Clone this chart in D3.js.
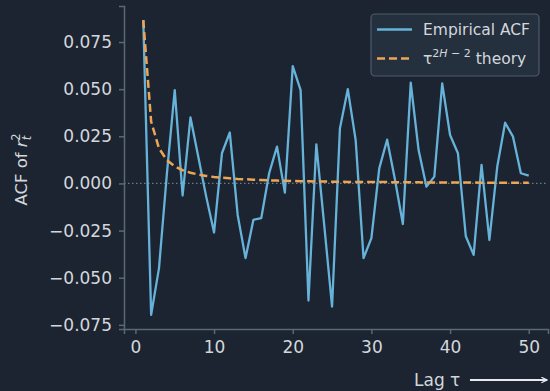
<!DOCTYPE html>
<html>
<head>
<meta charset="utf-8">
<script src="https://cdn.jsdelivr.net/npm/d3@7/dist/d3.min.js"></script>
<style>
  html, body { margin: 0; padding: 0; background: #1b2430; }
  svg { display: block; font-family: "DejaVu Sans", sans-serif; }
</style>
</head>
<body>
<svg id="chart" width="550" height="391"></svg>
<script>
// Lags 1..50
const lags = d3.range(1, 51);

// Empirical autocorrelation of squared returns
const acfValues = [
  0.0866, -0.0697, -0.0449, 0.0050, 0.0495, -0.0064, 0.0350, 0.0140, -0.0070, -0.0260,
  0.0160, 0.0270, -0.0167, -0.0396, -0.0193, -0.0184, 0.0054, 0.0195, -0.0049, 0.0622,
  0.0495, -0.0621, 0.0207, -0.0220, -0.0653, 0.0292, 0.0500, 0.0230, -0.0396, -0.0290,
  0.0080, 0.0232, 0.0020, -0.0215, 0.0534, 0.0177, -0.0017, 0.0036, 0.0530, 0.0257,
  0.0160, -0.0280, -0.0379, 0.0098, -0.0300, 0.0089, 0.0322, 0.0248, 0.0054, 0.0041
];

// Power-law decay curve tau^(2H-2), scaled to the lag-1 value
const theoryValues = [
  0.0866, 0.0328, 0.0186, 0.0124, 0.0091, 0.0070, 0.0057, 0.0047, 0.0040, 0.0034,
  0.0030, 0.0027, 0.0024, 0.0022, 0.0020, 0.0018, 0.0016, 0.0015, 0.0014, 0.0013,
  0.0012, 0.0011, 0.0010, 0.0010, 0.0009, 0.0009, 0.0008, 0.0008, 0.0007, 0.0007,
  0.0007, 0.0007, 0.0006, 0.0006, 0.0006, 0.0006, 0.0005, 0.0005, 0.0005, 0.0005,
  0.0005, 0.0005, 0.0005, 0.0004, 0.0004, 0.0004, 0.0004, 0.0004, 0.0004, 0.0004
];

const xTicks = [0, 10, 20, 30, 40, 50];
const yTicks = [-0.075, -0.050, -0.025, 0.000, 0.025, 0.050, 0.075];

const W = 550, H = 391;
const margin = { left: 124, right: 2, top: 6, bottom: 62 };

const svg = d3.select("#chart");
svg.append("rect").attr("width", W).attr("height", H).attr("fill", "#1b2430");

const x = d3.scaleLinear().domain([-1.45, 52.45]).range([margin.left, W - margin.right]);
const y = d3.scaleLinear().domain([-0.0772, 0.0941]).range([H - margin.bottom, margin.top]);

const textColor = "#d3d7dc";
const spineColor = "#5b6878";

// Zero reference
svg.append("line")
  .attr("x1", x.range()[0]).attr("x2", x.range()[1])
  .attr("y1", y(0)).attr("y2", y(0))
  .attr("stroke", "#6f7a88").attr("stroke-width", 1.2)
  .attr("stroke-dasharray", "1.5,2.5");

// Axes
const xAxis = d3.axisBottom(x).tickValues(xTicks).tickSize(5).tickPadding(7).tickFormat(d3.format("d"));
const yAxis = d3.axisLeft(y).tickValues(yTicks).tickSize(5).tickPadding(7)
  .tickFormat(d => d3.format(".3f")(d).replace("-", "\u2212"));

const gx = svg.append("g").attr("transform", `translate(0,${H - margin.bottom})`).call(xAxis);
const gy = svg.append("g").attr("transform", `translate(${margin.left},0)`).call(yAxis);

[gx, gy].forEach(g => {
  g.select(".domain").attr("stroke", spineColor).attr("stroke-width", 1.5);
  g.selectAll(".tick line").attr("stroke", spineColor).attr("stroke-width", 1.5);
  g.selectAll(".tick text").attr("fill", textColor)
    .style("font-size", "17px").style("font-family", "DejaVu Sans, sans-serif");
});

// Series lines
const line = d3.line().x((d, i) => x(lags[i])).y(d => y(d));

svg.append("path")
  .datum(acfValues)
  .attr("fill", "none")
  .attr("stroke", "#66b2d8")
  .attr("stroke-width", 2.3)
  .attr("stroke-linejoin", "round")
  .attr("d", line);

svg.append("path")
  .datum(theoryValues)
  .attr("fill", "none")
  .attr("stroke", "#eca455")
  .attr("stroke-width", 2.5)
  .attr("stroke-dasharray", "8,4")
  .attr("d", line);

// Y label: ACF of r_t^2
const yl = svg.append("text")
  .attr("transform", `translate(27,${(margin.top + H - margin.bottom) / 2 + 2}) rotate(-90)`)
  .attr("text-anchor", "middle")
  .attr("fill", textColor)
  .style("font-size", "16.5px");
yl.append("tspan").text("ACF of ");
yl.append("tspan").attr("font-style", "italic").text("r");
yl.append("tspan").attr("font-size", "11.5px").attr("font-style", "italic").attr("dy", 4).attr("dx", 0).text("t");
yl.append("tspan").attr("font-size", "11.5px").attr("dy", -11).attr("dx", -5).text("2");

// X label with arrow
svg.append("text")
  .attr("x", 414).attr("y", 386)
  .attr("fill", textColor)
  .style("font-size", "17px")
  .text("Lag \u03c4");

const defs = svg.append("defs");
defs.append("marker")
  .attr("id", "arrowhead")
  .attr("viewBox", "0 0 10 10")
  .attr("refX", 9).attr("refY", 5)
  .attr("markerWidth", 7).attr("markerHeight", 7)
  .attr("markerUnits", "userSpaceOnUse")
  .attr("orient", "auto")
  .append("path")
  .attr("d", "M1,1 L9,5 L1,9")
  .attr("fill", "none")
  .attr("stroke", "#e8ebee")
  .attr("stroke-width", 1.8);

svg.append("line")
  .attr("x1", 470).attr("x2", 547)
  .attr("y1", 380).attr("y2", 380)
  .attr("stroke", "#e8ebee")
  .attr("stroke-width", 1.8)
  .attr("marker-end", "url(#arrowhead)");

// Legend
const legend = svg.append("g");
legend.append("rect")
  .attr("x", 371).attr("y", 14)
  .attr("width", 168).attr("height", 62)
  .attr("rx", 4)
  .attr("fill", "#24303e")
  .attr("stroke", "#4e5b6b")
  .attr("stroke-width", 1.2);

legend.append("line")
  .attr("x1", 377).attr("x2", 412).attr("y1", 29.5).attr("y2", 29.5)
  .attr("stroke", "#66b2d8").attr("stroke-width", 2.3);
legend.append("line")
  .attr("x1", 377).attr("x2", 412).attr("y1", 58.5).attr("y2", 58.5)
  .attr("stroke", "#eca455").attr("stroke-width", 2.5)
  .attr("stroke-dasharray", "8,4");

legend.append("text")
  .attr("x", 423).attr("y", 35)
  .attr("fill", textColor)
  .style("font-size", "15.5px")
  .text("Empirical ACF");

const lt = legend.append("text")
  .attr("x", 423).attr("y", 64)
  .attr("fill", textColor)
  .style("font-size", "15.5px");
lt.append("tspan").text("\u03c4");
lt.append("tspan").attr("font-size", "11px").attr("dy", -7).text("2");
lt.append("tspan").attr("font-size", "11px").attr("font-style", "italic").text("H");
lt.append("tspan").attr("font-size", "11px").text(" \u2212 2");
lt.append("tspan").attr("dy", 7).text(" theory");
</script>
</body>
</html>
